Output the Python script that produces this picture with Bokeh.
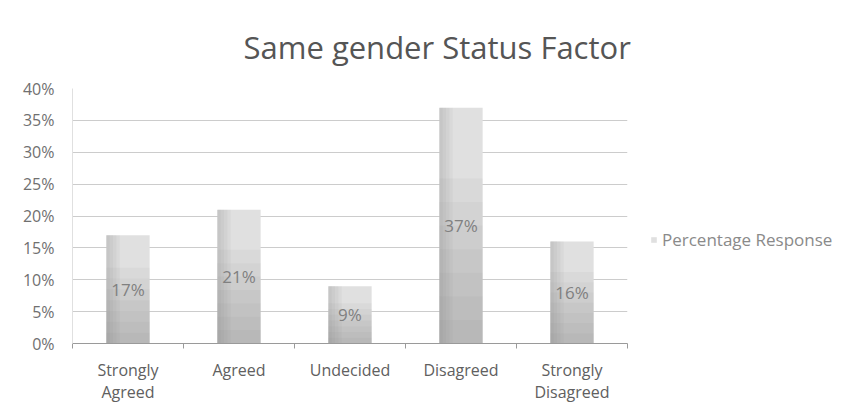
from bokeh.plotting import figure
from bokeh.models import (ColumnDataSource, FixedTicker, SingleIntervalTicker,
                          NumeralTickFormatter, Range1d, Legend, LegendItem)
from bokeh.core.properties import value
from bokeh.embed import file_html
from bokeh.resources import INLINE

categories = ["Strongly\nAgreed", "Agreed", "Undecided", "Disagreed", "Strongly\nDisagreed"]
values = [0.17, 0.21, 0.09, 0.37, 0.16]
series_name = "Percentage Response"
title_text = "Same gender Status Factor"

xs = [i + 0.5 for i in range(len(categories))]
src = ColumnDataSource(dict(
    x=xs, top=values, mid=[v / 2 for v in values],
    label=[f"{round(v * 100)}%" for v in values],
))

FONT = "Open Sans"

p = figure(frame_width=555, frame_height=255, output_backend="svg", toolbar_location=None,
           x_range=Range1d(0, len(categories)), y_range=Range1d(0, 0.40),
           min_border_left=72, min_border_right=0, min_border_top=88,
           min_border_bottom=61)
p.outline_line_color = None
p.background_fill_color = "white"
p.border_fill_color = "white"

p.title.text = title_text
p.title.align = "left"
p.title.offset = 171
p.title.text_font = FONT
p.title.text_font_size = "31px"
p.title.text_font_style = "normal"
p.title.text_color = "#555555"
p.title.standoff = 41

main = p.vbar(x="x", top="top", width=0.39, source=src, fill_color="#e0e0e0",
              line_color=None)
# shading layers to imitate the gradient
for f in [0.1, 0.2, 0.3, 0.4, 0.5, 0.6, 0.7]:
    p.vbar(x=xs, top=[v * f for v in values], width=0.39, fill_color="#707070",
           fill_alpha=0.06, line_color=None)
for w in [0.03, 0.06, 0.09, 0.12]:
    p.vbar(x=[x - 0.195 + w / 2 for x in xs], top=values, width=w,
           fill_color="#808080", fill_alpha=0.07, line_color=None)

p.text(x="x", y="mid", text="label", source=src, text_align="center",
       text_baseline="middle", text_font=value(FONT), text_font_size="17px",
       text_color="#808080")

# axes
p.xaxis.ticker = FixedTicker(ticks=xs, minor_ticks=list(range(len(categories) + 1)))
p.xaxis.major_label_overrides = {x: c for x, c in zip(xs, categories)}
p.xaxis.major_tick_line_color = None
p.xaxis.minor_tick_line_color = "#9a9a9a"
p.xaxis.minor_tick_in = 0
p.xaxis.minor_tick_out = 5
p.xaxis.axis_line_color = "#9a9a9a"
p.xaxis.major_label_text_font = FONT
p.xaxis.major_label_text_font_size = "16px"
p.xaxis.major_label_text_color = "#606060"
p.xaxis.major_label_text_line_height = 1.0
p.xaxis.major_label_standoff = 9

p.yaxis.ticker = SingleIntervalTicker(interval=0.05)
p.yaxis.formatter = NumeralTickFormatter(format="0%")
p.yaxis.major_tick_line_color = None
p.yaxis.minor_tick_line_color = None
p.yaxis.axis_line_color = "#e0e0e0"
p.yaxis.major_label_text_font = FONT
p.yaxis.major_label_text_font_size = "16px"
p.yaxis.major_label_text_color = "#707070"
p.yaxis.major_label_standoff = 12

p.xgrid.grid_line_color = None
p.ygrid.grid_line_color = "#cccccc"
p.ygrid.grid_line_width = 1

legend = Legend(items=[LegendItem(label=series_name, renderers=[main])],
                location=(23, 92), border_line_color=None,
                background_fill_alpha=0, label_text_font=FONT,
                label_text_font_size="17px", label_text_color="#8a8a8a",
                glyph_width=7, glyph_height=7, label_standoff=5)
p.add_layout(legend, "right")

open("out.html", "w").write(file_html(p, INLINE))
